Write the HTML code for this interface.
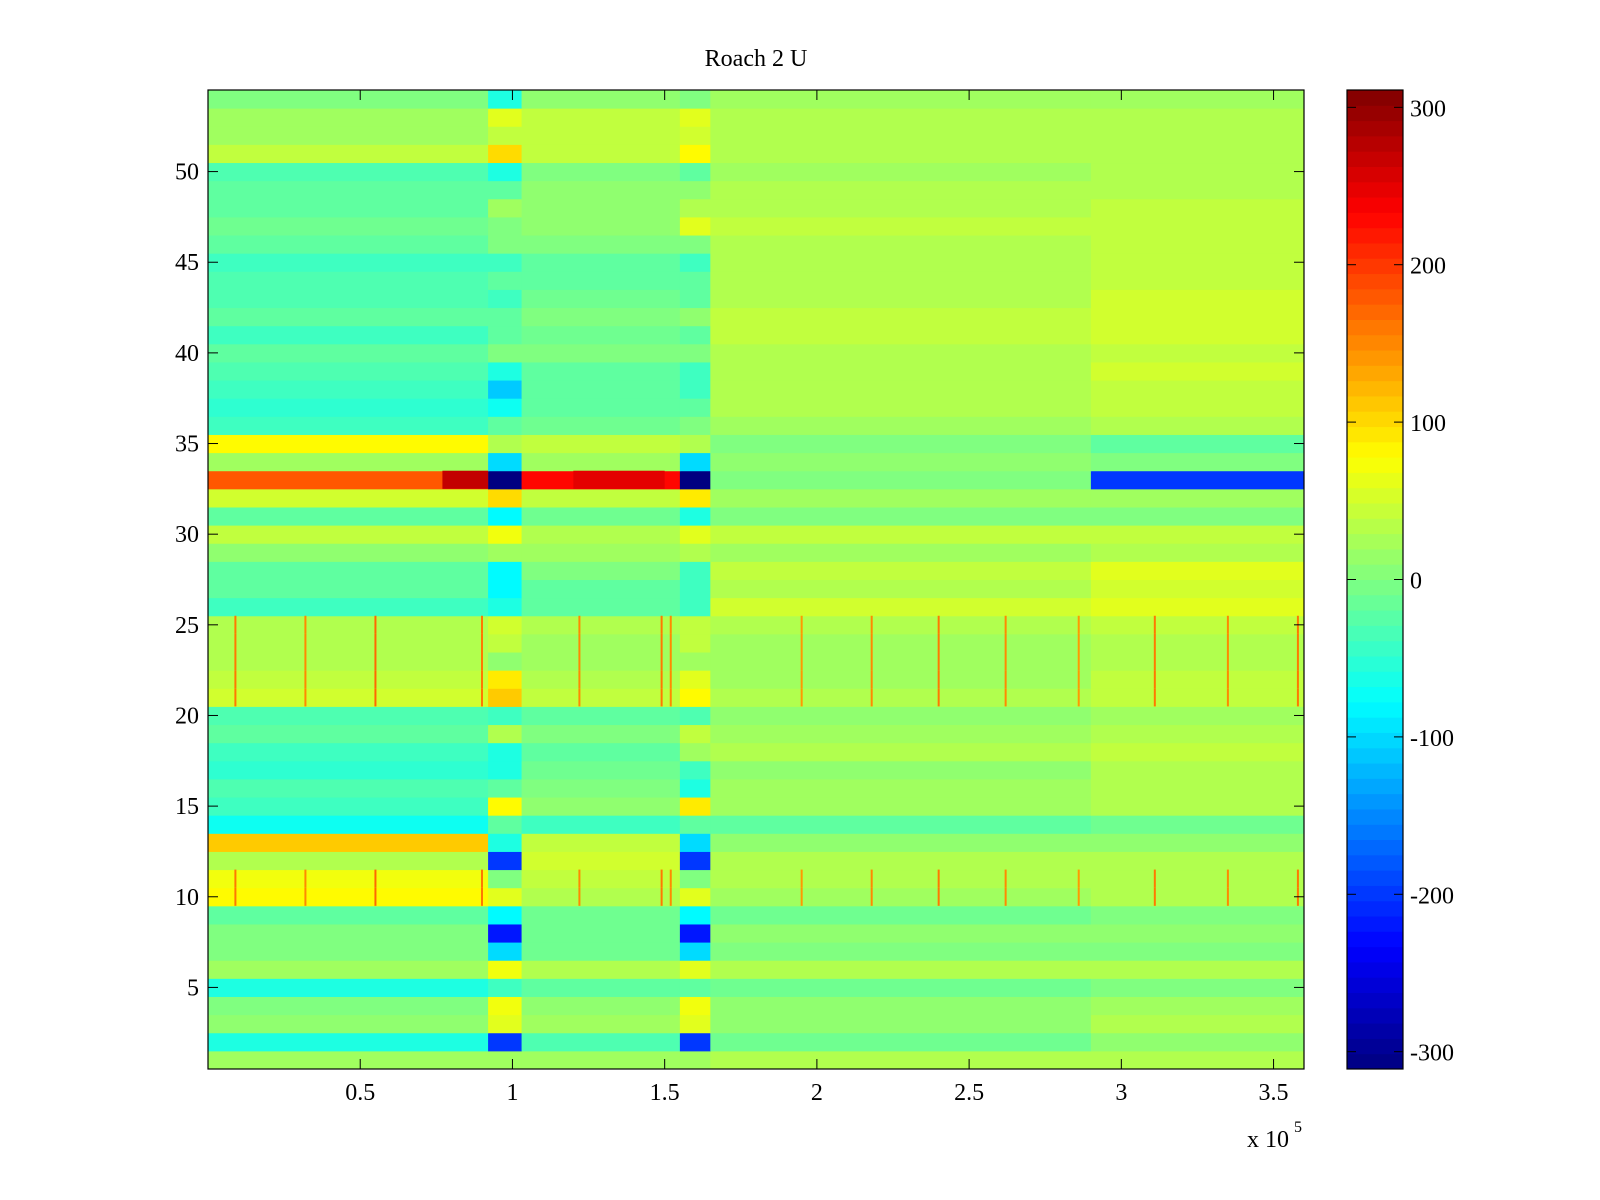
<!DOCTYPE html>
<html><head><meta charset="utf-8"><style>
body{margin:0;background:#fff;}
svg{display:block;font-family:"Liberation Serif",serif;}
</style></head><body>
<svg id="fig" width="1600" height="1200" viewBox="0 0 1600 1200">
<rect width="1600" height="1200" fill="#fff"/>
<text x="756" y="66" font-size="24" text-anchor="middle">Roach 2 U</text>
<g id="heat"></g>
<g id="axes"></g>
<g id="cbar"></g>
</svg>
<script>
// x segment boundaries (units of 1e5)
const segEdges = [0, 0.92, 1.03, 1.55, 1.65, 2.9, 3.6];
// per-row values (row 1 .. 54), one per segment [A,B,C,D,E,F]
const rowValues = [
[20,20,20,20,30,30],[-60,-200,-30,-200,-10,10],[10,60,20,60,10,30],[0,70,10,70,10,20],
[-60,-40,-20,-20,-10,0],[20,70,30,60,30,30],[0,-100,-10,-100,0,0],[0,-220,-10,-220,10,10],
[-20,-80,-10,-80,-10,0],[80,60,30,60,20,30],[70,0,40,0,30,30],[30,-200,50,-200,30,30],
[110,-60,40,-100,10,10],[-70,-20,-40,-20,-20,-10],[-40,80,10,90,20,30],[-30,-20,0,-60,20,30],
[-50,-60,-10,-40,10,30],[-40,-60,-20,20,30,40],[-20,30,0,40,20,30],[-30,-40,-20,-30,10,20],
[50,110,40,80,30,40],[40,90,30,60,20,40],[30,10,20,20,20,30],[30,40,20,40,20,30],
[30,50,30,40,30,40],[-40,-60,-20,-40,50,60],[-20,-80,-20,-40,30,50],[-20,-80,0,-40,40,60],
[10,20,20,30,20,30],[40,70,30,60,40,40],[-20,-80,-10,-60,0,0],[50,100,40,90,20,20],
[180,-310,230,-310,0,-200],[20,-100,20,-100,10,0],[80,30,40,30,0,-20],[-40,-20,-10,0,20,30],
[-50,-70,-20,-20,30,40],[-40,-110,-20,-40,30,40],[-30,-60,-20,-40,30,50],[-20,0,0,0,30,40],
[-40,-20,-10,-20,40,50],[-20,-20,0,10,40,50],[-30,-40,-10,-20,30,50],[-30,-20,-20,-20,30,40],
[-40,-40,-20,-40,30,40],[-20,0,0,0,30,40],[-10,0,10,60,40,40],[-20,20,10,30,30,40],
[-20,-20,10,10,30,30],[-30,-60,0,-20,20,30],[40,100,40,80,30,30],[20,40,40,50,30,30],
[20,60,40,60,30,30],[0,-60,10,0,20,20]
];
// special blocks: [row, x0, x1, value]
const blockRows = [33, 33];
const blockX0 = [0.77, 1.2];
const blockX1 = [0.92, 1.5];
const blockVals = [270, 250];
// vertical spike stripes (x in 1e5) and their values
const spikeX = [0.09,0.32,0.55,0.9,1.22,1.49,1.52,1.95,2.18,2.4,2.62,2.86,3.11,3.35,3.58];
const spikeRows = [10,11,21,22,23,24,25];
const spikeVals = [160,150,170,160,150,160,150,140,150,160,150,140,160,150,160];
const xTicks = [0.5,1,1.5,2,2.5,3,3.5];
const xTickLabels = ["0.5","1","1.5","2","2.5","3","3.5"];
const yTicks = [5,10,15,20,25,30,35,40,45,50];
const cTicks = [-300,-200,-100,0,100,200,300];

const L=208,R=1304,T=90,B=1069,XMAX=3.6,YMIN=0.5,YMAX=54.5,CMIN=-311,CMAX=311;
const xs=v=>L+(v/XMAX)*(R-L);
const ys=v=>B-(v-YMIN)/(YMAX-YMIN)*(B-T);
function jet(v){
  let t=(v-CMIN)/(CMAX-CMIN);t=Math.max(0,Math.min(1,t));
  const f=(a)=>Math.max(0,Math.min(1,1.5-Math.abs(4*t-a)));
  const r=f(3),g=f(2),b=f(1);
  return `rgb(${Math.round(r*255)},${Math.round(g*255)},${Math.round(b*255)})`;
}
const NS="http://www.w3.org/2000/svg";
function mk(tag,attrs,parent){const e=document.createElementNS(NS,tag);for(const k in attrs)e.setAttribute(k,attrs[k]);parent.appendChild(e);return e;}
const heat=document.getElementById('heat');
rowValues.forEach((vals,i)=>{
  const row=i+1;
  vals.forEach((v,j)=>{
    const x0=xs(segEdges[j]),x1=xs(segEdges[j+1]);
    const r=mk('rect',{x:x0,y:ys(row+0.5),width:x1-x0+0.5,height:ys(row-0.5)-ys(row+0.5)+0.5,fill:jet(v)},heat);
    
    
  });
});
blockRows.forEach((row,k)=>{
  const r=mk('rect',{x:xs(blockX0[k]),y:ys(row+0.5),width:xs(blockX1[k])-xs(blockX0[k]),height:ys(row-0.5)-ys(row+0.5),fill:jet(blockVals[k])},heat);
  
  
});
spikeX.forEach((sx,k)=>{
  spikeRows.forEach(row=>{
    const r=mk('rect',{x:xs(sx)-1,y:ys(row+0.5),width:2,height:ys(row-0.5)-ys(row+0.5),fill:jet(spikeVals[k])},heat);
    
    
  });
});
const ax=document.getElementById('axes');
const frame=mk('rect',{x:L,y:T,width:R-L,height:B-T,fill:'none',stroke:'#000','stroke-width':1.2},ax);


xTicks.forEach((t,k)=>{
  const x=xs(t);
  mk('line',{x1:x,y1:B,x2:x,y2:B-10,stroke:'#000'},ax);
  mk('line',{x1:x,y1:T,x2:x,y2:T+10,stroke:'#000'},ax);
  const tx=mk('text',{x:x,y:B+31,'font-size':24,'text-anchor':'middle'},ax);
  tx.textContent=xTickLabels[k];
  
  
});
yTicks.forEach(t=>{
  const y=ys(t);
  mk('line',{x1:L,y1:y,x2:L+10,y2:y,stroke:'#000'},ax);
  mk('line',{x1:R,y1:y,x2:R-10,y2:y,stroke:'#000'},ax);
  const tx=mk('text',{x:L-9,y:y+8,'font-size':24,'text-anchor':'end'},ax);
  tx.textContent=String(t);
  
  
});
const ex=mk('text',{x:1247,y:1147,'font-size':24},ax);
ex.textContent='x 10';


const sup=mk('text',{x:1294,y:1132,'font-size':16},ax);
sup.textContent='5';



const cb=document.getElementById('cbar');
const CL=1347,CR=1403;
const cy=v=>B-(v-CMIN)/(CMAX-CMIN)*(B-T);
const N=64;
for(let i=0;i<N;i++){
  const v0=CMIN+(CMAX-CMIN)*i/N,v1=CMIN+(CMAX-CMIN)*(i+1)/N;
  const r=mk('rect',{x:CL,y:cy(v1),width:CR-CL,height:cy(v0)-cy(v1)+0.5,fill:jet((v0+v1)/2)},cb);
  
  
}
const cf=mk('rect',{x:CL,y:T,width:CR-CL,height:B-T,fill:'none',stroke:'#000','stroke-width':1.2},cb);


cTicks.forEach(t=>{
  const y=cy(t);
  mk('line',{x1:CL,y1:y,x2:CL+9,y2:y,stroke:'#000'},cb);
  mk('line',{x1:CR,y1:y,x2:CR-9,y2:y,stroke:'#000'},cb);
  const tx=mk('text',{x:CR+7,y:y+9,'font-size':24},cb);
  tx.textContent=String(t);
  
  
});
</script>
</body></html>
